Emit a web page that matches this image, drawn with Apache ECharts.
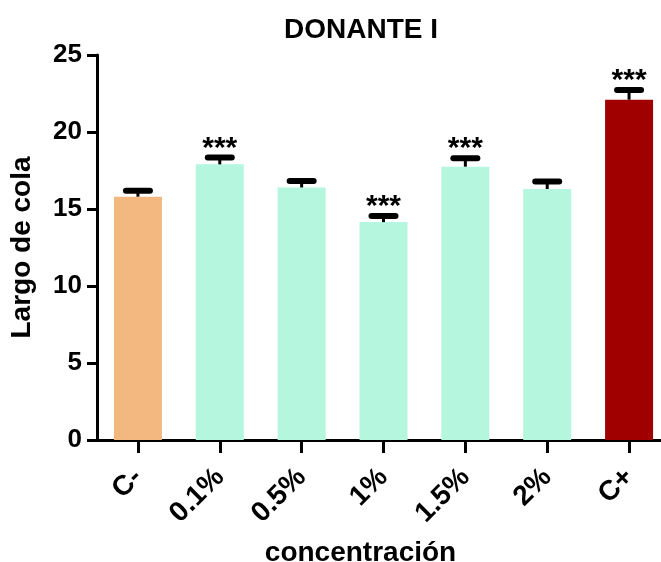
<!DOCTYPE html>
<html>
<head>
<meta charset="utf-8">
<script src="https://cdn.jsdelivr.net/npm/echarts@6/dist/echarts.min.js"></script>
<style>
  html, body { margin: 0; padding: 0; background: #ffffff; }
  #chart { width: 661px; height: 562px; }
</style>
</head>
<body>
<div id="chart"></div>
<script>
// Tail length per concentration (mean ± SEM)
const categories = ['C-', '0.1%', '0.5%', '1%', '1.5%', '2%', 'C+'];
const means = [15.8, 17.9, 16.4, 14.15, 17.75, 16.3, 22.1];
const sems = [0.38, 0.45, 0.42, 0.4, 0.55, 0.48, 0.62];
const significance = ['', '***', '', '***', '***', '', '***'];
const barColors = ['#F2B880', '#B5F6DF', '#B5F6DF', '#B5F6DF', '#B5F6DF', '#B5F6DF', '#A00000'];
const yTicks = [0, 5, 10, 15, 20, 25];

const FONT = '"Liberation Sans", Arial, sans-serif';

const chart = echarts.init(document.getElementById('chart'), null, { renderer: 'canvas' });

const errorData = means.map((m, i) => [i, m, sems[i]]);

chart.setOption({
  animation: false,
  backgroundColor: '#ffffff',
  title: {
    text: 'DONANTE I',
    left: 356,
    top: 11,
    textAlign: 'center',
    textStyle: { fontFamily: FONT, fontWeight: 'bold', fontSize: 28, color: '#000' }
  },
  grid: { left: 97, top: 55, width: 573, height: 385, containLabel: false, outerBoundsMode: 'none' },
  xAxis: {
    type: 'category',
    data: categories,
    name: 'concentración',
    nameLocation: 'middle',
    nameGap: 99,
    nameTextStyle: { fontFamily: FONT, fontWeight: 'bold', fontSize: 28, color: '#000', padding: [0, 46, 0, 0] },
    axisLine: { lineStyle: { color: '#000', width: 3 } },
    axisTick: { show: true, alignWithLabel: true, length: 13, lineStyle: { color: '#000', width: 3 } },
    axisLabel: { rotate: 45, margin: 33, padding: [11, 0, 0, 0], fontFamily: FONT, fontWeight: 'bold', fontSize: 28, color: '#000' }
  },
  yAxis: {
    type: 'value',
    min: yTicks[0],
    max: yTicks[yTicks.length - 1],
    interval: 5,
    name: 'Largo de cola',
    nameLocation: 'middle',
    nameGap: 61,
    nameTextStyle: { fontFamily: FONT, fontWeight: 'bold', fontSize: 28, color: '#000' },
    axisLine: { show: true, lineStyle: { color: '#000', width: 3 } },
    axisTick: { show: true, length: 10, lineStyle: { color: '#000', width: 3 } },
    axisLabel: { margin: 15, fontFamily: FONT, fontWeight: 'bold', fontSize: 26, color: '#000' },
    splitLine: { show: false }
  },
  series: [
    {
      type: 'bar',
      barWidth: 48,
      data: means.map((v, i) => ({ value: v, itemStyle: { color: barColors[i] } })),
      z: 2
    },
    {
      type: 'custom',
      z: 3,
      data: errorData,
      renderItem: function (params, api) {
        const idx = api.value(0);
        const m = api.value(1);
        const e = api.value(2);
        const base = api.coord([idx, m]);
        const top = api.coord([idx, m + e]);
        const capHalf = 12;
        const children = [
          {
            type: 'line',
            shape: { x1: base[0], y1: base[1], x2: top[0], y2: top[1] },
            style: { stroke: '#000', lineWidth: 3 }
          },
          {
            type: 'line',
            shape: { x1: top[0] - capHalf, y1: top[1], x2: top[0] + capHalf, y2: top[1] },
            style: { stroke: '#000', lineWidth: 6, lineCap: 'round' }
          }
        ];
        const sig = significance[params.dataIndex];
        if (sig) {
          children.push({
            type: 'text',
            style: {
              text: sig,
              x: top[0],
              y: top[1] + 6,
              align: 'center',
              verticalAlign: 'bottom',
              fontFamily: FONT,
              fontWeight: 'bold',
              fontSize: 30,
              fill: '#000'
            }
          });
        }
        return { type: 'group', children: children };
      }
    }
  ]
});
</script>
</body>
</html>
